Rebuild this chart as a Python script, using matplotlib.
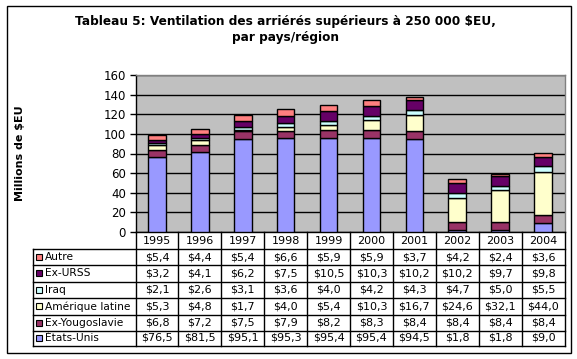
import matplotlib
matplotlib.use("Agg")
import matplotlib.pyplot as plt
from matplotlib.transforms import blended_transform_factory
from matplotlib.lines import Line2D
from matplotlib.patches import Rectangle
import numpy as np

years = ["1995", "1996", "1997", "1998", "1999", "2000", "2001", "2002", "2003", "2004"]
etats_unis = [76.5, 81.5, 95.1, 95.3, 95.4, 95.4, 94.5, 1.8, 1.8, 9.0]
ex_yougoslavie = [6.8, 7.2, 7.5, 7.9, 8.2, 8.3, 8.4, 8.4, 8.4, 8.4]
amerique_latine = [5.3, 4.8, 1.7, 4.0, 5.4, 10.3, 16.7, 24.6, 32.1, 44.0]
iraq = [2.1, 2.6, 3.1, 3.6, 4.0, 4.2, 4.3, 4.7, 5.0, 5.5]
ex_urss = [3.2, 4.1, 6.2, 7.5, 10.5, 10.3, 10.2, 10.2, 9.7, 9.8]
autre = [5.4, 4.4, 5.4, 6.6, 5.9, 5.9, 3.7, 4.2, 2.4, 3.6]

series_names = ["États-Unis", "Ex-Yougoslavie", "Amérique latine", "Iraq", "Ex-URSS", "Autre"]
series_values = [etats_unis, ex_yougoslavie, amerique_latine, iraq, ex_urss, autre]
series_colors = ["#9999FF", "#993366", "#FFFFCC", "#CCFFFF", "#660066", "#FF8080"]

W, H = 577, 359
fig = plt.figure(figsize=(W / 100, H / 100), dpi=100)
fig.patch.set_facecolor("white")

def fx(px):
    return px / W

def fy(py):
    return 1 - py / H

ax_l, ax_r, ax_t, ax_b = 135.5, 564.5, 75, 232
ax = fig.add_axes([fx(ax_l), fy(ax_b), fx(ax_r - ax_l), (ax_b - ax_t) / H])
ax.set_facecolor("#C0C0C0")

x = np.arange(len(years))
bottom = np.zeros(len(years))
for name, vals, col in zip(series_names, series_values, series_colors):
    ax.bar(x, vals, width=0.41, bottom=bottom, color=col, edgecolor="black", linewidth=1.0, zorder=3)
    bottom += np.array(vals)

ax.set_xlim(-0.5, len(years) - 0.5)
ax.set_ylim(0, 160)
ax.set_yticks(np.arange(0, 161, 20))
ax.yaxis.grid(True, color="black", linewidth=1.0, zorder=1)
ax.set_axisbelow(True)
ax.set_xticks([])
ax.tick_params(axis="y", direction="out", length=4, width=1, color="black", labelsize=8.5, pad=3)
ax.spines["left"].set_color("black")
ax.spines["bottom"].set_color("black")
ax.spines["top"].set_color("#808080")
ax.spines["right"].set_color("#808080")
for s in ax.spines.values():
    s.set_linewidth(1.0)

ax.set_ylabel("Millions de $EU", fontsize=8, fontweight="bold")
ax.yaxis.set_label_coords((25 - ax_l) / (ax_r - ax_l), 0.5)

fig.text(fx(285), fy(22), "Tableau 5: Ventilation des arriérés supérieurs à 250 000 $EU,",
         ha="center", va="center", fontsize=8.7, fontweight="bold")
fig.text(fx(285), fy(38), "par pays/région", ha="center", va="center", fontsize=8.7, fontweight="bold")

# outer frame
fig.add_artist(Rectangle((fx(6.5), fy(353)), fx(571 - 6.5), (353 - 5.5) / H,
                         transform=fig.transFigure, fill=False, edgecolor="black", linewidth=1.0))

# table
bt = blended_transform_factory(ax.transData, fig.transFigure)
row_bounds = [249, 265, 281.5, 298, 314.5, 330.5, 345.5]
table_left = 32.7

for i, yr in enumerate(years):
    fig.text(x[i], fy(241), yr, transform=bt, ha="center", va="center", fontsize=8)
for b in np.arange(-0.5, len(years), 1.0):
    fig.add_artist(Line2D([b, b], [fy(ax_b), fy(row_bounds[-1])], transform=bt, color="black", linewidth=1.0))
fig.add_artist(Line2D([fx(table_left), fx(table_left)], [fy(row_bounds[0]), fy(row_bounds[-1])],
                      transform=fig.transFigure, color="black", linewidth=1.0))
for rb in row_bounds:
    fig.add_artist(Line2D([fx(table_left), fx(ax_r)], [fy(rb), fy(rb)],
                          transform=fig.transFigure, color="black", linewidth=1.0))

rows = list(zip(series_names, series_values, series_colors))[::-1]
for r, (name, vals, col) in enumerate(rows):
    yc = (row_bounds[r] + row_bounds[r + 1]) / 2
    fig.add_artist(Rectangle((fx(36), fy(yc + 3)), fx(6), 6 / H, transform=fig.transFigure,
                             facecolor=col, edgecolor="black", linewidth=0.8))
    fig.text(fx(45), fy(yc), name, ha="left", va="center", fontsize=7.7)
    for i, v in enumerate(vals):
        fig.text(x[i], fy(yc), "$" + f"{v:.1f}".replace(".", ","), transform=bt,
                 ha="center", va="center", fontsize=8)

fig.savefig("out.png", dpi=100)
